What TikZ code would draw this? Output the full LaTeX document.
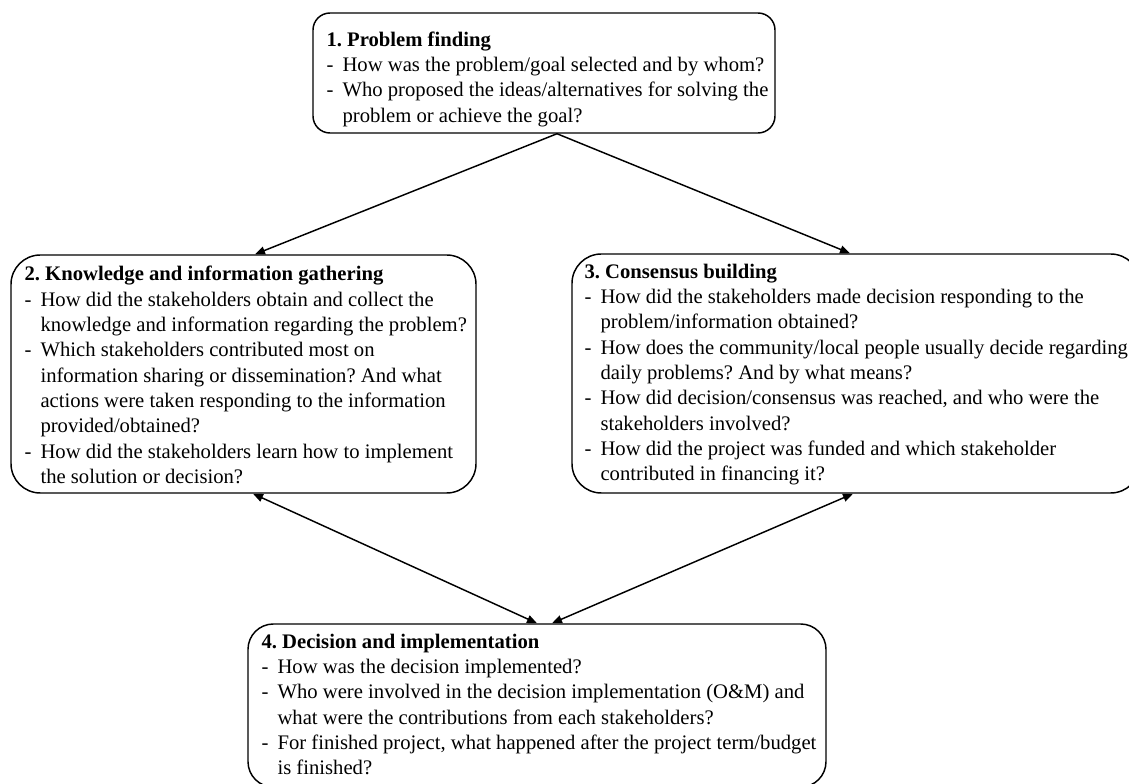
\documentclass[tikz,border=0pt]{standalone}
\usepackage{fontspec}
\setmainfont{Liberation Serif}
\usetikzlibrary{arrows.meta,calc}
\newcommand{\dl}{\makebox[12pt][l]{-}}
\newcommand{\ind}{\hspace*{12pt}}
\frenchspacing
\begin{document}
\begin{tikzpicture}[x=0.75pt,y=-0.75pt,
  box/.style={draw=black, line width=1.1pt, rectangle, inner sep=0pt},
  txt/.style={anchor=west, align=left, inner sep=0pt, font=\fontsize{15.5}{19}\selectfont\frenchspacing},
  link/.style={draw=black, line width=1.1pt, -{Triangle[length=7.5pt,width=6pt]}},
  both/.style={draw=black, line width=1.1pt, {Triangle[length=7.5pt,width=6pt]}-{Triangle[length=7.5pt,width=6pt]}}]
\useasboundingbox (0,0) rectangle (1129,784);
\clip (0,0) rectangle (1129,784);
\fill[white] (0,0) rectangle (1129,784);
% boxes
\node[box, rounded corners=12.75pt, minimum width=346.5pt, minimum height=90pt] (b1) at (544,73) {};
\node[box, rounded corners=22pt, minimum width=348.75pt, minimum height=178.5pt] (b2) at (243.5,374) {};
\node[box, rounded corners=22pt, minimum width=426pt, minimum height=179.25pt] (b3) at (856,373.5) {};
\node[box, rounded corners=19pt, minimum width=433.5pt, minimum height=122.25pt] (b4) at (537,705.5) {};
% texts
\node[txt] (t1) at ($(b1.west)+(14,6)$) {\textbf{1. Problem finding}\\
\dl How was the problem/goal selected and by whom?\\
\dl Who proposed the ideas/alternatives for solving the\\
\ind problem or achieve the goal?};
\node[txt] (t2) at ($(b2.west)+(14,1)$) {\textbf{2. Knowledge and information gathering}\\
\dl How did the stakeholders obtain and collect the\\
\ind knowledge and information regarding the problem?\\
\dl Which stakeholders contributed most on\\
\ind information sharing or dissemination? And what\\
\ind actions were taken responding to the information\\
\ind provided/obtained?\\
\dl How did the stakeholders learn how to implement\\
\ind the solution or decision?};
\node[txt] (t3) at ($(b3.west)+(13,1)$) {\textbf{3. Consensus building}\\
\dl How did the stakeholders made decision responding to the\\
\ind problem/information obtained?\\
\dl How does the community/local people usually decide regarding\\
\ind daily problems? And by what means?\\
\dl How did decision/consensus was reached, and who were the\\
\ind stakeholders involved?\\
\dl How did the project was funded and which stakeholder\\
\ind contributed in financing it?};
\node[txt] (t4) at ($(b4.west)+(14,-1)$) {\textbf{4. Decision and implementation}\\
\dl How was the decision implemented?\\
\dl Who were involved in the decision implementation (O\&M) and\\
\ind what were the contributions from each stakeholders?\\
\dl For finished project, what happened after the project term/budget\\
\ind is finished?};
% connectors
\draw[link] ($(b1.south)+(13,0)$) -- ($(b2.north)+(11.5,0)$);
\draw[link] ($(b1.south)+(13,0)$) -- ($(b3.north)+(-6,0)$);
\draw[both] ($(b2.south)+(9.5,0)$) -- ($(b4.north)+(0,0)$);
\draw[both] ($(b3.south)+(-3,0)$) -- ($(b4.north)+(15,0)$);
\end{tikzpicture}
\end{document}
